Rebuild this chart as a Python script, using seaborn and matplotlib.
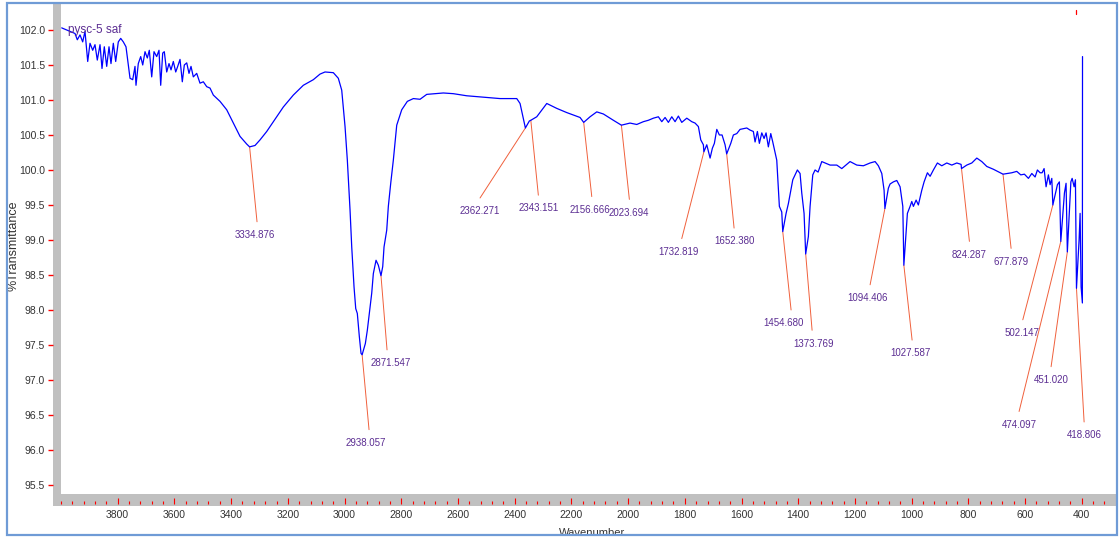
import numpy as np
import pandas as pd
import matplotlib
matplotlib.use("Agg")
import matplotlib.pyplot as plt
from matplotlib.patches import Rectangle
from matplotlib.ticker import FixedLocator, MultipleLocator, FormatStrFormatter
import seaborn as sns

# ---------------- data ----------------
wavenumber = [
    3997.5, 3968.3, 3950.6, 3942.5, 3933.0, 3923.5, 3915.4, 3905.8, 3897.7, 3888.2,
    3880.1, 3872.0, 3862.4, 3855.4, 3847.3, 3838.8, 3830.7, 3823.7, 3815.5, 3807.1,
    3797.9, 3789.4, 3780.3, 3770.8, 3756.6, 3747.1, 3739.0, 3735.5, 3727.4, 3718.9,
    3711.8, 3703.7, 3695.6, 3688.6, 3680.1, 3672.0, 3662.5, 3654.4, 3648.4, 3641.3,
    3635.7, 3627.2, 3619.1, 3612.0, 3603.9, 3595.4, 3588.4, 3580.3, 3572.2, 3565.1,
    3556.6, 3548.6, 3541.5, 3533.4, 3521.4, 3509.8, 3498.1, 3486.1, 3474.5, 3462.8,
    3439.2, 3415.6, 3392.3, 3368.7, 3345.0, 3334.876, 3315.8, 3298.1, 3274.5, 3251.2,
    3215.9, 3180.7, 3145.4, 3110.1, 3086.5, 3068.9, 3039.6, 3022.0, 3010.0, 2998.3,
    2990.2, 2980.7, 2974.7, 2966.6, 2960.6, 2955.0, 2947.9, 2941.9, 2938.057, 2926.7,
    2919.7, 2912.6, 2904.2, 2898.5, 2889.0, 2880.9, 2871.547, 2865.4, 2860.8, 2851.3,
    2845.6, 2837.2, 2828.0, 2816.0, 2798.4, 2778.6, 2757.4, 2733.8, 2710.2, 2651.6,
    2616.4, 2569.1, 2510.5, 2451.6, 2392.7, 2381.1, 2362.271, 2348.3, 2343.151, 2322.2,
    2286.9, 2251.7, 2216.4, 2169.5, 2156.666, 2134.2, 2110.6, 2087.3, 2052.0, 2023.694,
    1993.2, 1969.5, 1946.2, 1928.6, 1910.9, 1893.3, 1881.3, 1869.6, 1858.0, 1846.0,
    1834.4, 1822.7, 1810.8, 1793.1, 1775.5, 1763.9, 1752.2, 1743.8, 1734.6, 1732.819,
    1722.6, 1710.9, 1702.9, 1695.8, 1687.3, 1678.2, 1668.7, 1658.1, 1652.380, 1638.0,
    1628.8, 1616.8, 1605.2, 1581.6, 1569.9, 1558.3, 1552.3, 1544.1, 1537.1, 1528.6,
    1520.5, 1513.5, 1505.4, 1496.9, 1489.9, 1475.8, 1466.6, 1458.2, 1454.680, 1442.9,
    1434.8, 1419.3, 1411.2, 1403.1, 1393.6, 1387.6, 1379.5, 1373.769, 1364.3, 1358.3,
    1348.8, 1340.7, 1330.0, 1317.0, 1287.8, 1264.1, 1246.5, 1217.3, 1193.6, 1170.3,
    1146.7, 1129.0, 1117.4, 1105.4, 1097.3, 1094.406, 1082.2, 1076.1, 1064.5, 1052.5,
    1040.9, 1031.3, 1027.587, 1015.1, 1005.6, 999.6, 993.9, 984.4, 976.4, 964.4,
    956.2, 944.5, 935.0, 923.4, 909.3, 893.8, 876.2, 858.5, 840.9, 825.7,
    824.287, 805.6, 787.9, 770.3, 752.7, 735.0, 711.7, 688.1, 677.879, 647.0,
    629.4, 615.3, 602.4, 588.3, 576.3, 564.7, 556.6, 547.1, 540.0, 533.0,
    526.0, 517.8, 511.8, 505.8, 502.147, 486.0, 479.1, 474.097, 461.3, 455.5,
    451.020, 438.6, 434.1, 427.1, 422.5, 418.806, 409.6, 406.0, 402.5, 398.0,
    397.5,
]
transmittance = [
    102.03, 101.98, 101.95, 101.86, 101.93, 101.83, 101.98, 101.55, 101.81, 101.71,
    101.79, 101.57, 101.79, 101.45, 101.76, 101.48, 101.76, 101.52, 101.81, 101.55,
    101.83, 101.88, 101.83, 101.76, 101.31, 101.29, 101.48, 101.21, 101.52, 101.62,
    101.50, 101.69, 101.60, 101.71, 101.33, 101.69, 101.62, 101.71, 101.21, 101.67,
    101.69, 101.40, 101.52, 101.43, 101.55, 101.40, 101.48, 101.58, 101.26, 101.50,
    101.53, 101.38, 101.48, 101.33, 101.38, 101.24, 101.26, 101.19, 101.17, 101.07,
    100.98, 100.86, 100.67, 100.48, 100.37, 100.33, 100.35, 100.43, 100.55, 100.69,
    100.90, 101.07, 101.21, 101.29, 101.37, 101.40, 101.39, 101.31, 101.14, 100.62,
    100.14, 99.43, 98.90, 98.33, 98.02, 97.95, 97.62, 97.38, 97.36, 97.52,
    97.71, 97.95, 98.24, 98.52, 98.71, 98.64, 98.49, 98.62, 98.90, 99.14,
    99.48, 99.81, 100.14, 100.64, 100.86, 100.98, 101.02, 101.01, 101.08, 101.10,
    101.09, 101.06, 101.04, 101.02, 101.02, 100.95, 100.60, 100.70, 100.71, 100.76,
    100.95, 100.88, 100.82, 100.75, 100.68, 100.76, 100.83, 100.80, 100.71, 100.64,
    100.67, 100.65, 100.69, 100.71, 100.74, 100.76, 100.69, 100.75, 100.68, 100.76,
    100.69, 100.77, 100.68, 100.74, 100.69, 100.67, 100.62, 100.43, 100.36, 100.26,
    100.36, 100.17, 100.31, 100.38, 100.58, 100.50, 100.50, 100.36, 100.23, 100.38,
    100.50, 100.52, 100.58, 100.60, 100.57, 100.55, 100.40, 100.55, 100.38, 100.53,
    100.45, 100.53, 100.33, 100.52, 100.40, 100.14, 99.48, 99.40, 99.12, 99.38,
    99.52, 99.86, 99.93, 100.00, 99.95, 99.67, 99.38, 98.80, 99.05, 99.48,
    99.93, 100.00, 99.97, 100.12, 100.07, 100.07, 100.02, 100.12, 100.07, 100.06,
    100.10, 100.12, 100.06, 99.95, 99.71, 99.45, 99.74, 99.80, 99.83, 99.85,
    99.76, 99.48, 98.64, 99.38, 99.48, 99.55, 99.48, 99.57, 99.50, 99.71,
    99.83, 99.96, 99.91, 100.00, 100.10, 100.06, 100.10, 100.07, 100.10, 100.08,
    100.02, 100.07, 100.10, 100.17, 100.12, 100.05, 100.01, 99.96, 99.94, 99.96,
    99.98, 99.93, 99.94, 99.88, 99.95, 99.90, 100.00, 99.96, 99.96, 100.02,
    99.76, 99.93, 99.79, 99.88, 99.50, 99.79, 99.83, 98.98, 99.67, 99.81,
    98.83, 99.83, 99.88, 99.76, 99.86, 98.31, 99.00, 99.38, 98.33, 98.10,
    101.62,
]

peak_labels = [3334.876, 2938.057, 2871.547, 2362.271, 2343.151, 2156.666, 2023.694,
               1732.819, 1652.380, 1454.680, 1373.769, 1094.406, 1027.587, 824.287,
               677.879, 502.147, 474.097, 451.020, 418.806]

x_tick_values = [3800, 3600, 3400, 3200, 3000, 2800, 2600, 2400, 2200, 2000,
                 1800, 1600, 1400, 1200, 1000, 800, 600, 400]
y_tick_values = [95.5, 96.0, 96.5, 97.0, 97.5, 98.0, 98.5, 99.0, 99.5,
                 100.0, 100.5, 101.0, 101.5, 102.0]
sample_name = "pysc-5 saf"
x_title = "Wavenumber"
y_title = "%Transmittance"

# ---------------- layout (leader-line ends / label centres, in axis units) ---------------
leader_end = [(3308.7, 99.26), (2913.7, 96.29), (2850.2, 97.43), (2522.2, 99.60),
              (2316.6, 99.64), (2128.2, 99.62), (1995.6, 99.58), (1810.8, 99.02),
              (1626.3, 99.17), (1425.3, 98.00), (1351.2, 97.71), (1146.6, 98.36),
              (998.5, 97.57), (796.4, 98.98), (649.4, 98.88), (608.1, 97.86),
              (621.2, 96.55), (508.3, 97.19), (391.9, 96.40)]
label_x = [3315.8, 2924.3, 2836.1, 2522.2, 2316.6, 2134.2, 1999.1, 1823.8, 1626.3,
           1453.5, 1347.7, 1157.2, 1005.6, 796.4, 649.4, 611.6, 621.2, 508.3, 391.9]

# ---------------- styling ----------------
sns.set_style("white")
plt.rcParams['font.family'] = ['Liberation Sans', 'DejaVu Sans']

W, H = 1120, 538
fig = plt.figure(figsize=(W / 100, H / 100), dpi=100)
fig.patch.set_facecolor("white")

ax_left, ax_right, ax_top, ax_bot = 61, 1113, 8, 494
ax = fig.add_axes([ax_left / W, 1 - ax_bot / H, (ax_right - ax_left) / W, (ax_bot - ax_top) / H])
ax.set_facecolor("none")

# grey axis bands
band = "#c0c0c0"
fig.add_artist(Rectangle((53 / W, 1 - 506 / H), 8 / W, (506 - 3) / H,
                         transform=fig.transFigure, facecolor=band, edgecolor="none", zorder=-2))
fig.add_artist(Rectangle((53 / W, 1 - 506 / H), (1116 - 53) / W, 12 / H,
                         transform=fig.transFigure, facecolor=band, edgecolor="none", zorder=-2))
# outer frame
fig.add_artist(Rectangle((7 / W, 3 / H), (1117 - 7) / W, (535 - 3) / H,
                         transform=fig.transFigure, fill=False, edgecolor="#6f9bd6",
                         linewidth=1.6, zorder=5))

df = pd.DataFrame({"wavenumber": wavenumber, "transmittance": transmittance})
sns.lineplot(data=df, x="wavenumber", y="transmittance", ax=ax, sort=False,
             estimator=None, color="#0000ff", linewidth=0.9)

ax.set_xlim(4000, 290)
ax.set_ylim(95.371, 102.314)

# peak annotations
wn_asc = np.array(wavenumber)[::-1]
tr_asc = np.array(transmittance)[::-1]
purple = "#5b2d92"
leader = "#f0603c"
for pk, (ex, ey), lx in zip(peak_labels, leader_end, label_x):
    py = float(np.interp(pk, wn_asc, tr_asc))
    ax.plot([pk, ex], [py, ey], color=leader, linewidth=0.7, zorder=1)
    ax.text(lx, ey - 0.19, f"{pk:.3f}", ha="center", va="center",
            fontsize=7.0, color=purple)

ax.text(3975, 102.0, sample_name, ha="left", va="center", fontsize=8.5, color=purple)
ax.plot([418.806, 418.806], [102.285, 102.23], color="red", linewidth=0.9, clip_on=False)

# axes / ticks
for s in ax.spines.values():
    s.set_visible(False)
ax.spines["bottom"].set_position(("outward", 7.2))
ax.spines["left"].set_position(("outward", 5.76))

ax.xaxis.set_major_locator(FixedLocator(x_tick_values))
ax.xaxis.set_minor_locator(MultipleLocator(40))
ax.xaxis.set_major_formatter(FormatStrFormatter("%d"))
ax.yaxis.set_major_locator(FixedLocator(y_tick_values))
ax.yaxis.set_major_formatter(FormatStrFormatter("%.1f"))

ax.tick_params(axis="x", which="major", direction="in", length=4.3, width=0.8,
               color="red", pad=4.5, labelsize=7.5, labelcolor="#333333", bottom=True)
ax.tick_params(axis="x", which="minor", direction="in", length=2.2, width=0.8,
               color="red", bottom=True)
ax.tick_params(axis="y", which="major", direction="out", length=3.6, width=1.0,
               color="red", pad=2.0, labelsize=7.5, labelcolor="#333333", left=True)

ax.set_xlabel("")
ax.set_ylabel("")
fig.text(592 / W, 1 - 533 / H, x_title, ha="center", va="center", fontsize=8, color="#333333")
fig.text(14 / W, 1 - 246 / H, y_title, ha="center", va="center", rotation=90,
         fontsize=9, color="#333333")

fig.savefig("out.png", dpi=100)
